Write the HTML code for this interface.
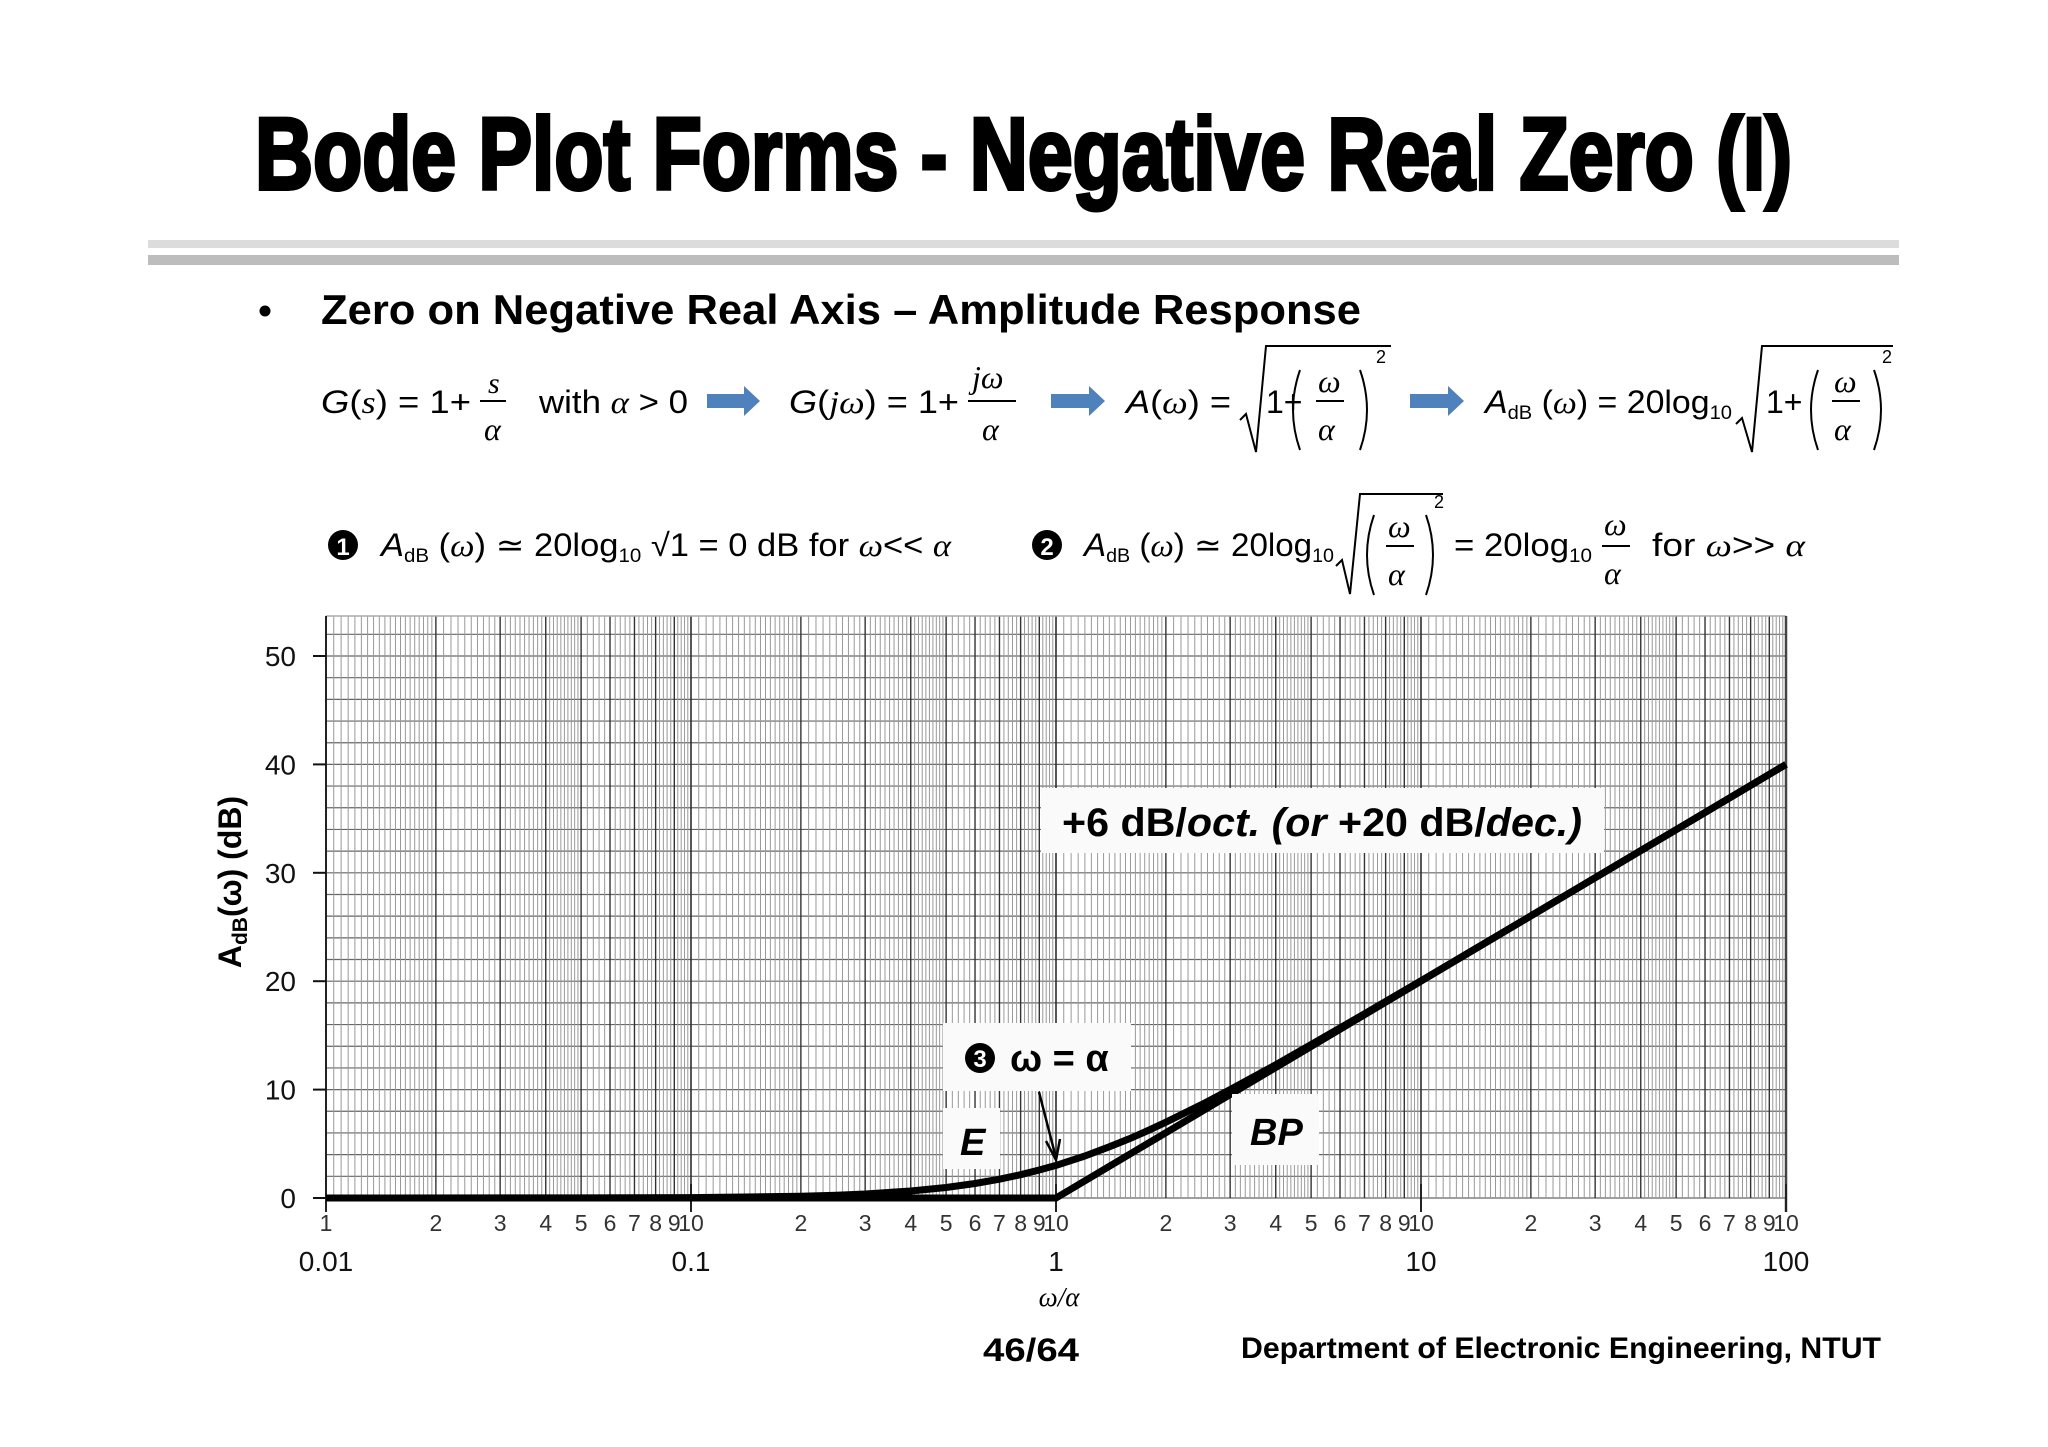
<!DOCTYPE html>
<html><head><meta charset="utf-8"><style>
html,body{margin:0;padding:0;background:#fff;}
svg{display:block;}
.s{font-family:"Liberation Sans",sans-serif;}
.m{font-family:"Liberation Serif",serif;font-style:italic;}
</style></head><body>
<svg id="root" width="2048" height="1447" viewBox="0 0 2048 1447" xmlns="http://www.w3.org/2000/svg">
<rect width="2048" height="1447" fill="#fff"/>
<text class="s" x="255" y="189" font-size="102" font-weight="bold" stroke="#000" stroke-width="4" textLength="1537" lengthAdjust="spacingAndGlyphs">Bode Plot Forms - Negative Real Zero (I)</text>
<rect x="148" y="240" width="1751" height="8" fill="#dcdcdc"/>
<rect x="148" y="255" width="1751" height="10" fill="#bdbdbd"/>
<circle cx="265" cy="311" r="5.5" fill="#000"/>
<text class="s" x="321" y="324" font-size="42" font-weight="bold" textLength="1040" lengthAdjust="spacingAndGlyphs">Zero on Negative Real Axis – Amplitude Response</text>

<g font-size="32">
<text class="s" x="321" y="413" textLength="150" lengthAdjust="spacingAndGlyphs"><tspan font-style="italic">G</tspan>(<tspan class="m">s</tspan>) = 1+</text>
<text class="m" x="488" y="393" font-size="30">s</text>
<line x1="480" y1="401" x2="506" y2="401" stroke="#000" stroke-width="2"/>
<text class="m" x="484" y="440" font-size="32">α</text>
<text class="s" x="539" y="413" textLength="149" lengthAdjust="spacingAndGlyphs">with <tspan class="m">α</tspan> &gt; 0</text>
<polygon points="707,394 744,394 744,386 760,401 744,416 744,408 707,408" fill="#4f81bd"/>
<text class="s" x="789" y="413" textLength="170" lengthAdjust="spacingAndGlyphs"><tspan font-style="italic">G</tspan>(<tspan class="m">jω</tspan>) = 1+</text>
<text class="m" x="972" y="388">jω</text>
<line x1="968" y1="401" x2="1016" y2="401" stroke="#000" stroke-width="2"/>
<text class="m" x="982" y="440">α</text>
<polygon points="1051,394 1089,394 1089,386 1105,401 1089,416 1089,408 1051,408" fill="#4f81bd"/>
<text class="s" x="1126" y="413" textLength="105" lengthAdjust="spacingAndGlyphs"><tspan font-style="italic">A</tspan>(<tspan class="m">ω</tspan>) =</text>
<polyline points="1240,420 1246,414 1256,452 1266,346 1391,346" fill="none" stroke="#000" stroke-width="2"/>
<text class="s" x="1266" y="413">1+</text>
<path d="M1300,370 Q1286,410 1300,450 M1360,370 Q1374,410 1360,450" fill="none" stroke="#000" stroke-width="2"/>
<text class="m" x="1318" y="392">ω</text>
<line x1="1316" y1="401" x2="1344" y2="401" stroke="#000" stroke-width="2"/>
<text class="m" x="1318" y="440">α</text>
<text class="s" x="1376" y="363" font-size="18">2</text>
<polygon points="1410,394 1448,394 1448,386 1464,401 1448,416 1448,408 1410,408" fill="#4f81bd"/>
<text class="s" x="1485" y="413" textLength="247" lengthAdjust="spacingAndGlyphs"><tspan font-style="italic">A</tspan><tspan font-size="19" dy="6">dB</tspan><tspan dy="-6"> (</tspan><tspan class="m">ω</tspan>) = 20log<tspan font-size="19" dy="6">10</tspan></text>
<polyline points="1736,424 1742,418 1752,452 1762,346 1893,346" fill="none" stroke="#000" stroke-width="2"/>
<text class="s" x="1766" y="413">1+</text>
<path d="M1818,370 Q1804,410 1818,450 M1874,370 Q1888,410 1874,450" fill="none" stroke="#000" stroke-width="2"/>
<text class="m" x="1834" y="392">ω</text>
<line x1="1832" y1="401" x2="1860" y2="401" stroke="#000" stroke-width="2"/>
<text class="m" x="1834" y="440">α</text>
<text class="s" x="1882" y="363" font-size="18">2</text>
</g>

<g font-size="32">
<circle cx="343" cy="545" r="15" fill="#000"/><text class="s" x="343" y="555" font-size="24" font-weight="bold" fill="#fff" text-anchor="middle">1</text>
<text class="s" x="381" y="556" textLength="570" lengthAdjust="spacingAndGlyphs"><tspan font-style="italic">A</tspan><tspan font-size="19" dy="6">dB</tspan><tspan dy="-6"> (</tspan><tspan class="m">ω</tspan>) ≃ 20log<tspan font-size="19" dy="6">10</tspan><tspan dy="-6"> √1 = 0 dB  for </tspan><tspan class="m">ω</tspan>&lt;&lt; <tspan class="m">α</tspan></text>
<circle cx="1047" cy="545" r="15" fill="#000"/><text class="s" x="1047" y="555" font-size="24" font-weight="bold" fill="#fff" text-anchor="middle">2</text>
<text class="s" x="1084" y="556" textLength="250" lengthAdjust="spacingAndGlyphs"><tspan font-style="italic">A</tspan><tspan font-size="19" dy="6">dB</tspan><tspan dy="-6"> (</tspan><tspan class="m">ω</tspan>) ≃ 20log<tspan font-size="19" dy="6">10</tspan></text>
<polyline points="1336,566 1342,560 1350,594 1360,494 1443,494" fill="none" stroke="#000" stroke-width="2"/>
<path d="M1374,515 Q1360,555 1374,595 M1426,515 Q1440,555 1426,595" fill="none" stroke="#000" stroke-width="2"/>
<text class="m" x="1388" y="537">ω</text>
<line x1="1386" y1="546" x2="1414" y2="546" stroke="#000" stroke-width="2"/>
<text class="m" x="1388" y="585">α</text>
<text class="s" x="1434" y="508" font-size="18">2</text>
<text class="s" x="1454" y="556" textLength="138" lengthAdjust="spacingAndGlyphs">= 20log<tspan font-size="19" dy="6">10</tspan></text>
<text class="m" x="1604" y="535">ω</text>
<line x1="1602" y1="546" x2="1630" y2="546" stroke="#000" stroke-width="2"/>
<text class="m" x="1604" y="584">α</text>
<text class="s" x="1652" y="556" textLength="153" lengthAdjust="spacingAndGlyphs">for <tspan class="m">ω</tspan>&gt;&gt; <tspan class="m">α</tspan></text>
</g>

<g id="chart"></g>

<text class="s" x="983" y="1361" font-size="32" font-weight="bold" textLength="96" lengthAdjust="spacingAndGlyphs">46/64</text>
<text class="s" x="1241" y="1358" font-size="30" font-weight="bold" textLength="640" lengthAdjust="spacingAndGlyphs">Department of Electronic Engineering, NTUT</text>
</svg>
<script>
const decadeLabels = ["0.01", "0.1", "1", "10", "100"];
const minorLabels = ["1","2","3","4","5","6","7","8","9","10"];
const yTicks = [0, 10, 20, 30, 40, 50];
const exactW = [0.01,0.05,0.1,0.15,0.2,0.25,0.3,0.4,0.5,0.6,0.7,0.8,0.9,1,1.2,1.4,1.6,1.8,2,2.5,3,4,5,7,10,20,50,100];
const exactDb = [0,0.01,0.04,0.1,0.17,0.26,0.37,0.65,0.97,1.34,1.73,2.15,2.58,3.01,3.87,4.72,5.51,6.27,6.99,8.6,10,12.3,14.15,16.99,20.04,26.03,33.98,40];
const asymW = [0.01, 1, 100];
const asymDb = [0, 0, 40];

const NS = "http://www.w3.org/2000/svg";
const chartG = document.getElementById("chart");
const X0 = 326, X1 = 1786, YB = 1198, YT = 616;
const xMin = -2, xMax = 2, dbPerPx = 50 / (1198 - 656);
function xs(w){ return X0 + (Math.log10(w) - xMin) / (xMax - xMin) * (X1 - X0); }
function ys(db){ return YB - db / dbPerPx; }
function mk(tag, attrs){ const e = document.createElementNS(NS, tag); for (const k in attrs) e.setAttribute(k, attrs[k]); chartG.appendChild(e); return e; }

const bg = mk("rect", {x:X0, y:YT, width:X1-X0, height:YB-YT, fill:"#fff"});


for (let d = 0; ys(d) >= YT; d += 2) {
  const l = mk("line", {x1:X0, x2:X1, y1:ys(d), y2:ys(d), stroke:"#666", "stroke-width":1.2});
  
  
}
for (let dec = xMin; dec < xMax; dec++) {
  const base = Math.pow(10, dec);
  const subs = [];
  for (let v = 1.05; v < 1.999; v += 0.05) subs.push(v);
  for (let v = 2.1; v < 4.999; v += 0.1) subs.push(v);
  for (let v = 5.2; v < 9.999; v += 0.2) subs.push(v);
  subs.forEach(v => {
    if (Math.abs(v - Math.round(v)) < 1e-6) return;
    const x = xs(base * v);
    const l = mk("line", {x1:x, x2:x, y1:YT, y2:YB, stroke:"#999", "stroke-width":1});
    
    
  });
  for (let i = 1; i <= 10; i++) {
    const x = xs(base * i);
    const l = mk("line", {x1:x, x2:x, y1:YT, y2:YB, stroke:"#333", "stroke-width":1.4});
    
    
    if (i === 1 && dec > xMin) continue;
    const t = mk("text", {x:x, y:1231, "font-size":23, "text-anchor":"middle", fill:"#333", "font-family":"Liberation Sans, sans-serif"});
    t.textContent = minorLabels[i - 1];
    
    
  }
}
const topB = mk("line", {x1:X0, x2:X1, y1:YT, y2:YT, stroke:"#aaa", "stroke-width":1.5});


const lb = mk("line", {x1:X0, x2:X0, y1:YT, y2:YB+14, stroke:"#222", "stroke-width":2});


const rb = mk("line", {x1:X1, x2:X1, y1:YT, y2:YB+14, stroke:"#444", "stroke-width":2.5});



decadeLabels.forEach((lab, i) => {
  const x = xs(Math.pow(10, xMin + i));
  const tk = mk("line", {x1:x, x2:x, y1:YB-14, y2:YB+14, stroke:"#222", "stroke-width":2});
  
  
  const t = mk("text", {x:x, y:1271, "font-size":28, "text-anchor":"middle", fill:"#111", "font-family":"Liberation Sans, sans-serif"});
  t.textContent = lab;
  
  
});
yTicks.forEach(v => {
  const y = ys(v);
  const tk = mk("line", {x1:313, x2:X0, y1:y, y2:y, stroke:"#111", "stroke-width":2});
  
  
  const t = mk("text", {x:296, y:y + 10, "font-size":28, "text-anchor":"end", fill:"#111", "font-family":"Liberation Sans, sans-serif"});
  t.textContent = String(v);
  
  
});

function pathD(ws, ds){ return ws.map((w, i) => (i ? "L" : "M") + xs(w).toFixed(1) + "," + ys(ds[i]).toFixed(1)).join(" "); }
const asym = mk("path", {d:pathD(asymW, asymDb), fill:"none", stroke:"#000", "stroke-width":7});


const ex = mk("path", {d:pathD(exactW, exactDb), fill:"none", stroke:"#000", "stroke-width":7, "stroke-linejoin":"round"});



function box(x, y, w, h, name){ const r = mk("rect", {x:x, y:y, width:w, height:h, fill:"#fafafa"});   }
box(1041, 788, 563, 65, 'slope-annotation-box');
const st = mk("text", {x:1062, y:836, "font-size":40, "font-weight":"bold", "font-family":"Liberation Sans, sans-serif", textLength:520, lengthAdjust:"spacingAndGlyphs"});
st.innerHTML = '+6 dB/<tspan font-style="italic">oct. (or </tspan>+20 dB/<tspan font-style="italic">dec.)</tspan>';


box(943, 1023, 188, 68, 'corner-annotation-box');
const c3 = mk("circle", {cx:980, cy:1058, r:15, fill:"#000"});


const c3t = mk("text", {x:980, y:1067, "font-size":24, "font-weight":"bold", fill:"#fff", "text-anchor":"middle", "font-family":"Liberation Sans, sans-serif"});
c3t.textContent = "3";


const wa = mk("text", {x:1010, y:1071, "font-size":38, "font-weight":"bold", "font-family":"Liberation Sans, sans-serif"});
wa.textContent = "ω = α";


box(943, 1108, 57, 61, 'exact-label-box');
const et = mk("text", {x:960, y:1155, "font-size":38, "font-weight":"bold", "font-style":"italic", "font-family":"Liberation Sans, sans-serif"});
et.textContent = "E";


box(1232, 1094, 87, 71, 'bp-label-box');
const bt = mk("text", {x:1250, y:1145, "font-size":38, "font-weight":"bold", "font-style":"italic", "font-family":"Liberation Sans, sans-serif"});
bt.textContent = "BP";


const ar = mk("path", {d:"M1039,1092 L1056,1158 M1046,1141 L1056,1160 L1060,1139", fill:"none", stroke:"#000", "stroke-width":2.5});



const xt = mk("text", {x:1059, y:1306, "font-size":27, "text-anchor":"middle", "font-family":"Liberation Serif, serif", "font-style":"italic"});
xt.textContent = "ω/α";


const yt = mk("text", {x:0, y:0, "font-size":32, "font-weight":"bold", "text-anchor":"middle", "font-family":"Liberation Sans, sans-serif", transform:"translate(241,882) rotate(-90)"});
yt.innerHTML = 'A<tspan font-size="21" dy="6">dB</tspan><tspan dy="-6">(ω)  (dB)</tspan>';


</script>
</body></html>
